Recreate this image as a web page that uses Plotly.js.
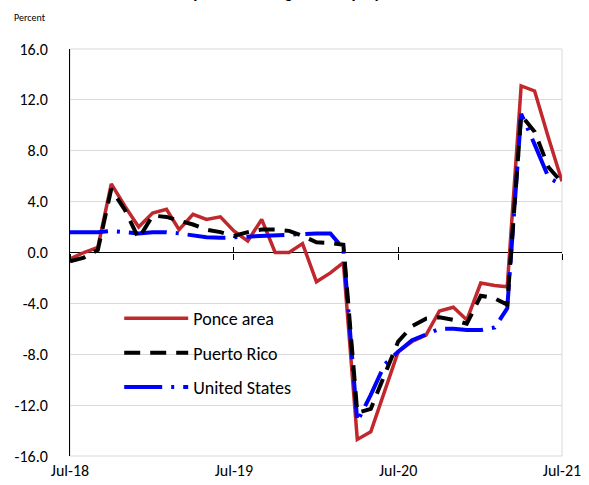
<!DOCTYPE html>
<html><head><meta charset="utf-8">
<script src="https://cdn.plot.ly/plotly-3.0.1.min.js"></script>
<style>html,body{margin:0;padding:0;background:#fff}#chart{width:589px;height:485px}</style>
</head><body><div id="chart"></div>
<script>
const months = ['2018-07-01','2018-08-01','2018-09-01','2018-10-01','2018-11-01','2018-12-01',
  '2019-01-01','2019-02-01','2019-03-01','2019-04-01','2019-05-01','2019-06-01',
  '2019-07-01','2019-08-01','2019-09-01','2019-10-01','2019-11-01','2019-12-01',
  '2020-01-01','2020-02-01','2020-03-01','2020-04-01','2020-05-01','2020-06-01',
  '2020-07-01','2020-08-01','2020-09-01','2020-10-01','2020-11-01','2020-12-01',
  '2021-01-01','2021-02-01','2021-03-01','2021-04-01','2021-05-01','2021-06-01','2021-07-01'];
const ponceArea = [-0.5, 0.0, 0.4, 5.4, 3.6, 2.0, 3.1, 3.4, 1.8, 3.0, 2.6, 2.8, 1.7, 0.9, 2.6, 0.0, 0.0, 0.7,
  -2.3, -1.6, -0.8, -14.7, -14.1, -11.0, -7.8, -7.0, -6.5, -4.6, -4.3, -5.3, -2.4, -2.6, -2.7, 13.1, 12.7, 9.0, 5.6];
const puertoRico = [-0.7, -0.4, 0.2, 5.0, 3.3, 1.1, 2.9, 2.8, 2.5, 2.2, 1.8, 1.6, 1.3, 1.6, 1.8, 1.8, 1.7, 1.3,
  0.8, 0.75, 0.6, -12.6, -12.3, -9.6, -7.0, -5.8, -5.2, -5.1, -5.3, -5.6, -3.4, -3.6, -4.1, 10.8, 9.5, 6.7, 5.5];
const unitedStates = [1.6, 1.6, 1.6, 1.7, 1.6, 1.5, 1.6, 1.6, 1.5, 1.35, 1.2, 1.15, 1.2, 1.3, 1.35, 1.4, 1.45, 1.5,
  1.5, 1.5, 0.3, -13.3, -11.2, -8.8, -7.8, -6.9, -6.4, -6.0, -6.0, -6.1, -6.1, -5.9, -4.4, 10.9, 8.5, 5.9, 5.3];
const seriesNames = ['Ponce area', 'Puerto Rico', 'United States'];
const xTickVals = ['2018-07-01','2019-07-01','2020-07-01','2021-07-01'];
const xTickText = ['Jul-18','Jul-19','Jul-20','Jul-21'];
const yTickVals = [-16, -12, -8, -4, 0, 4, 8, 12, 16];
const yTickText = ['-16.0','-12.0','-8.0','-4.0','0.0','4.0','8.0','12.0','16.0'];
const titleText = '12-month percent changes in employment';
const unitText = 'Percent';

const FONT = 'Carlito, Lato, sans-serif';
const xRange = [xTickVals[0], xTickVals[xTickVals.length - 1]];

const traces = [
  {x: months, y: ponceArea, name: seriesNames[0], type: 'scatter', mode: 'lines',
   line: {color: '#C0282D', width: 3.5}, xaxis: 'x', yaxis: 'y', legendrank: 1, legendgroup: 'a'},
  {x: months, y: unitedStates, name: seriesNames[2], type: 'scatter', mode: 'lines',
   line: {color: '#0000FF', width: 4, dash: '38px,9px,3px,9px'}, xaxis: 'x2', yaxis: 'y', legendrank: 3, legendgroup: 'c'},
  {x: months, y: puertoRico, name: seriesNames[1], type: 'scatter', mode: 'lines',
   line: {color: '#000000', width: 4, dash: '16px,10px'}, xaxis: 'x3', yaxis: 'y', legendrank: 2, legendgroup: 'b'}
];

const tickAxis = (dir) => ({
  type: 'date', range: xRange, overlaying: 'x', anchor: 'free', position: 0.5,
  tickmode: 'array', tickvals: xTickVals, showticklabels: false,
  ticks: dir, ticklen: 6, tickwidth: 1, tickcolor: '#000',
  showgrid: false, zeroline: false, showline: false
});

const layout = {
  width: 589, height: 485,
  margin: {l: 70, r: 27, t: 48.5, b: 29, pad: 0},
  paper_bgcolor: '#ffffff', plot_bgcolor: '#ffffff',
  font: {family: FONT, color: '#000', size: 16},
  showlegend: true,
  legend: {x: 0.1, y: 0.383, xanchor: 'left', yanchor: 'top', bgcolor: 'rgba(0,0,0,0)',
    font: {family: FONT, size: 18, color: '#000'}, itemwidth: 64,
    traceorder: 'grouped', tracegroupgap: 8},
  xaxis: {
    type: 'date', range: xRange, tickmode: 'array', tickvals: xTickVals, ticktext: xTickText,
    ticks: '', showgrid: false, zeroline: false, showline: false, ticklabelstandoff: 3,
    tickfont: {family: FONT, size: 16, color: '#000'}
  },
  xaxis2: tickAxis('outside'),
  xaxis3: tickAxis('inside'),
  yaxis: {
    range: [-16, 16], tickmode: 'array', tickvals: yTickVals, ticktext: yTickText,
    showgrid: true, gridcolor: '#d9d9d9', gridwidth: 1,
    zeroline: true, zerolinecolor: '#000', zerolinewidth: 1,
    showline: true, linecolor: '#000', linewidth: 1,
    ticks: '', ticklabelstandoff: 18,
    tickfont: {family: FONT, size: 16, color: '#000'}
  },
  shapes: [
    {type: 'rect', xref: 'paper', yref: 'paper', x0: 0, x1: 1, y0: 0, y1: 1,
     line: {color: '#d9d9d9', width: 1}, layer: 'below'}
  ],
  annotations: [
    {text: '<b>' + titleText + '</b>', xref: 'paper', yref: 'paper', x: 0.4065, y: 1.107,
     xanchor: 'center', yanchor: 'bottom', showarrow: false, font: {family: FONT, size: 17, color: '#000'}},
    {text: unitText, xref: 'paper', yref: 'paper', x: -0.118, y: 1.077,
     xanchor: 'left', yanchor: 'middle', showarrow: false, font: {family: FONT, size: 10, color: '#000'}}
  ]
};

Plotly.newPlot('chart', traces, layout, {displayModeBar: false, staticPlot: true});
</script>
</body></html>
